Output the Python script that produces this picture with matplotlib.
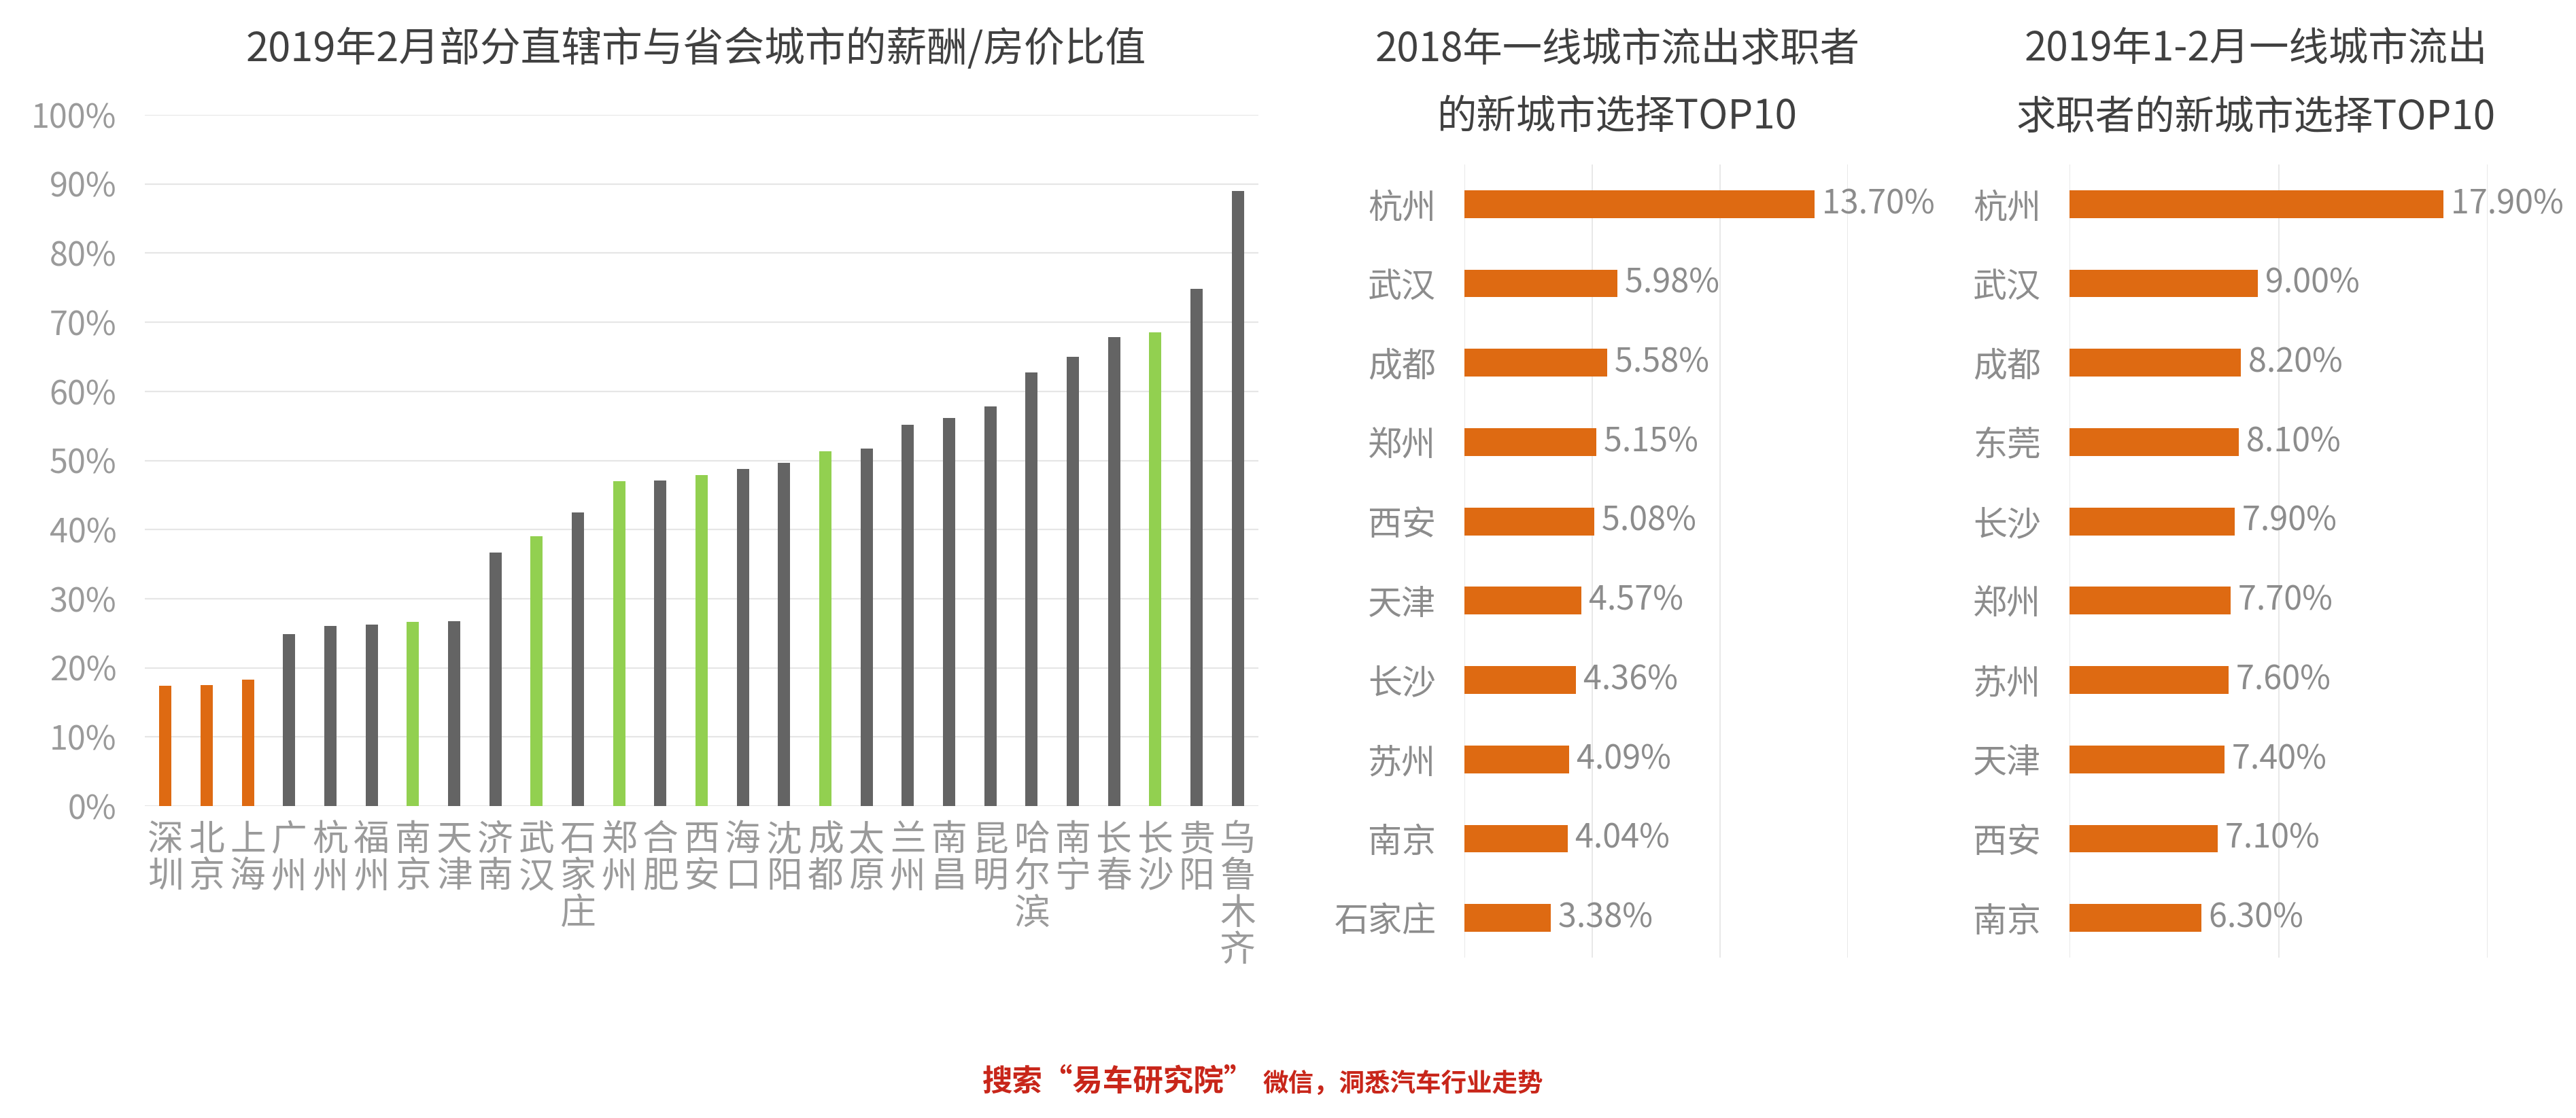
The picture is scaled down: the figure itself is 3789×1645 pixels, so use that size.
import matplotlib
matplotlib.use("Agg")
import matplotlib.pyplot as plt

plt.rcParams['font.family'] = ['Noto Sans CJK SC', 'DejaVu Sans']

# left chart: salary / house price ratio, Feb 2019
cities = ['深圳', '北京', '上海', '广州', '杭州', '福州', '南京', '天津', '济南', '武汉',
          '石家庄', '郑州', '合肥', '西安', '海口', '沈阳', '成都', '太原', '兰州', '南昌',
          '昆明', '哈尔滨', '南宁', '长春', '长沙', '贵阳', '乌鲁木齐']
ratios = [0.174, 0.175, 0.183, 0.249, 0.261, 0.263, 0.266, 0.267, 0.367, 0.390,
          0.425, 0.470, 0.471, 0.479, 0.488, 0.497, 0.513, 0.517, 0.552, 0.561,
          0.578, 0.627, 0.650, 0.678, 0.685, 0.748, 0.890]
first_tier = ['深圳', '北京', '上海']
highlight = ['南京', '武汉', '郑州', '西安', '成都', '长沙']

# middle chart: 2018 top10
cities_2018 = ['杭州', '武汉', '成都', '郑州', '西安', '天津', '长沙', '苏州', '南京', '石家庄']
share_2018 = [0.1370, 0.0598, 0.0558, 0.0515, 0.0508, 0.0457, 0.0436, 0.0409, 0.0404, 0.0338]

# right chart: 2019 Jan-Feb top10
cities_2019 = ['杭州', '武汉', '成都', '东莞', '长沙', '郑州', '苏州', '天津', '西安', '南京']
share_2019 = [0.179, 0.090, 0.082, 0.081, 0.079, 0.077, 0.076, 0.074, 0.071, 0.063]

ORANGE = '#DE6A12'
GRAY = '#646464'
GREEN = '#92D050'
GRID = '#E6E6E6'
TITLE = '#404040'

W, H = 3789, 1645
fig = plt.figure(figsize=(W / 100, H / 100), dpi=100)


def box(x0, y0, x1, y1):
    return [x0 / W, 1 - y1 / H, (x1 - x0) / W, (y1 - y0) / H]


# ---- left bar chart
ax = fig.add_axes(box(213, 169, 1851, 1186))
colors = [ORANGE if c in first_tier else GREEN if c in highlight else GRAY for c in cities]
ax.bar(range(len(cities)), ratios, width=0.3, color=colors, zorder=3)
ax.set_xlim(-0.5, len(cities) - 0.5)
ax.set_ylim(0, 1.0)
ax.set_yticks([i / 10 for i in range(11)])
ax.set_yticklabels([f'{i * 10}%' for i in range(11)], fontsize=35, color='#9A9A9A')
ax.set_xticks(range(len(cities)))
ax.set_xticklabels(['\n'.join(c) for c in cities], fontsize=38, color='#9A9A9A',
                   linespacing=0.98)
ax.tick_params(length=0, axis='y', pad=30)
ax.tick_params(length=0, axis='x', pad=16)
ax.yaxis.grid(True, color=GRID, linewidth=1.6, zorder=0)
for s in ax.spines.values():
    s.set_visible(False)
fig.text(1024 / W, 1 - 73 / H, '2019年2月部分直辖市与省会城市的薪酬/房价比值',
         ha='center', va='center', fontsize=43, color=TITLE)


def hbar(rect, names, vals, xmax, step, title_lines, cx):
    a = fig.add_axes(rect)
    pos = range(len(names))
    a.barh(pos, vals, height=0.35, color=ORANGE, zorder=3)
    a.set_ylim(len(names) - 0.5, -0.5)
    a.set_xlim(0, xmax)
    a.set_xticks([step * i for i in range(int(round(xmax / step)) + 1)])
    a.set_xticklabels([])
    a.xaxis.grid(True, color=GRID, linewidth=1.3, zorder=0)
    a.set_yticks(list(pos))
    a.set_yticklabels(names, fontsize=36, color='#8C8C8C')
    a.tick_params(length=0, axis='both', pad=30)
    for s in a.spines.values():
        s.set_visible(False)
    for p, v in zip(pos, vals):
        a.text(v, p, f' {v * 100:.2f}%', va='center', ha='left', fontsize=35,
               color='#8C8C8C', zorder=4)
    fig.text(cx / W, 1 - 73 / H, title_lines[0], ha='center', va='center',
             fontsize=42, color=TITLE)
    fig.text(cx / W, 1 - 173 / H, title_lines[1], ha='center', va='center',
             fontsize=42, color=TITLE)
    return a


hbar(box(2154, 242, 2718, 1409), cities_2018, share_2018, 0.15, 0.05,
     ['2018年一线城市流出求职者', '的新城市选择TOP10'], 2379)
hbar(box(3044, 242, 3659, 1409), cities_2019, share_2019, 0.20, 0.10,
     ['2019年1-2月一线城市流出', '求职者的新城市选择TOP10'], 3318)

# footer
fig.text(1845 / W, 1 - 1592 / H, '搜索“易车研究院”', ha='right', va='center',
         fontsize=32, fontweight='bold', color='#C8261A')
fig.text(1858 / W, 1 - 1594 / H, '微信，洞悉汽车行业走势', ha='left', va='center',
         fontsize=27, fontweight='bold', color='#C8261A')

fig.savefig('out.png', dpi=100, facecolor='white')
